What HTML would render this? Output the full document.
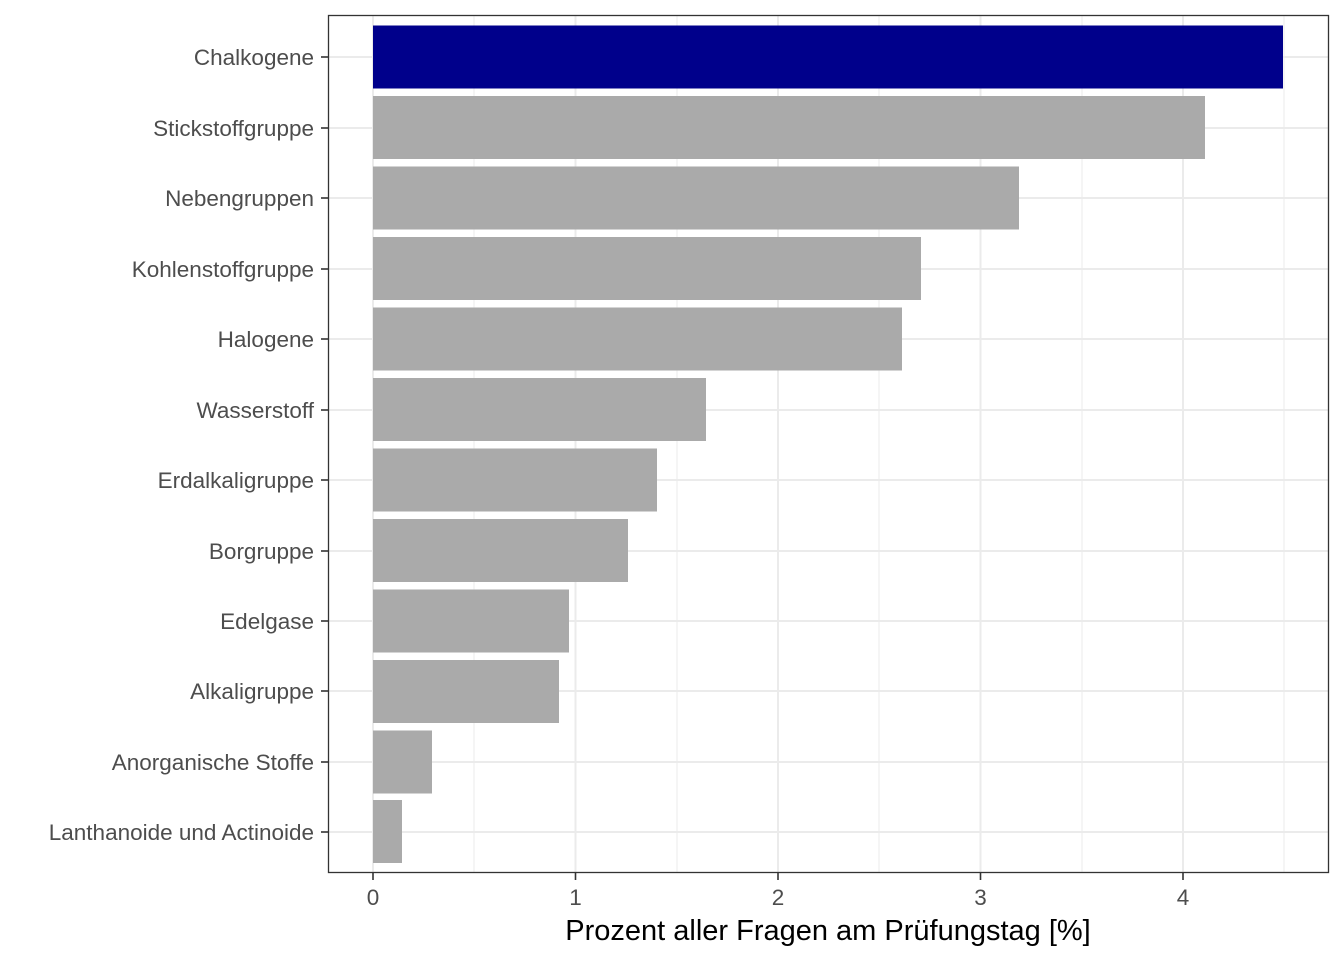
<!DOCTYPE html>
<html><head><meta charset="utf-8"><style>body{margin:0;background:#fff}</style></head><body>
<svg width="1344" height="960" xmlns="http://www.w3.org/2000/svg" font-family="Liberation Sans, sans-serif">
<rect width="1344" height="960" fill="#fff"/>
<g stroke="#ebebeb" stroke-width="1">
<line x1="474" y1="15" x2="474" y2="872"/><line x1="677" y1="15" x2="677" y2="872"/><line x1="879" y1="15" x2="879" y2="872"/><line x1="1082" y1="15" x2="1082" y2="872"/><line x1="1284" y1="15" x2="1284" y2="872"/>
</g>
<g stroke="#ebebeb" stroke-width="2">
<line x1="373" y1="15" x2="373" y2="872"/><line x1="575.5" y1="15" x2="575.5" y2="872"/><line x1="778" y1="15" x2="778" y2="872"/><line x1="980.5" y1="15" x2="980.5" y2="872"/><line x1="1183" y1="15" x2="1183" y2="872"/>
<line x1="328" y1="57" x2="1329" y2="57"/><line x1="328" y1="128" x2="1329" y2="128"/><line x1="328" y1="198" x2="1329" y2="198"/><line x1="328" y1="269" x2="1329" y2="269"/><line x1="328" y1="339" x2="1329" y2="339"/><line x1="328" y1="410" x2="1329" y2="410"/><line x1="328" y1="480" x2="1329" y2="480"/><line x1="328" y1="551" x2="1329" y2="551"/><line x1="328" y1="621" x2="1329" y2="621"/><line x1="328" y1="691" x2="1329" y2="691"/><line x1="328" y1="762" x2="1329" y2="762"/><line x1="328" y1="832" x2="1329" y2="832"/>
</g>
<rect x="373" y="25.5" width="910" height="63" fill="#00008b"/>
<g fill="#aaaaaa">
<rect x="373" y="96" width="832" height="63"/>
<rect x="373" y="166.5" width="646" height="63"/>
<rect x="373" y="237" width="548" height="63"/>
<rect x="373" y="307.5" width="529" height="63"/>
<rect x="373" y="378" width="333" height="63"/>
<rect x="373" y="448.5" width="284" height="63"/>
<rect x="373" y="519" width="255" height="63"/>
<rect x="373" y="589.5" width="196" height="63"/>
<rect x="373" y="660" width="186" height="63"/>
<rect x="373" y="730.5" width="59" height="63"/>
<rect x="373" y="800" width="29" height="63"/>
</g>
<rect x="328.5" y="15.5" width="1000" height="857" fill="none" stroke="#333" stroke-width="1.3"/>
<g stroke="#333" stroke-width="1.6">
<line x1="321" y1="57" x2="328" y2="57"/><line x1="321" y1="128" x2="328" y2="128"/><line x1="321" y1="198" x2="328" y2="198"/><line x1="321" y1="269" x2="328" y2="269"/><line x1="321" y1="339" x2="328" y2="339"/><line x1="321" y1="410" x2="328" y2="410"/><line x1="321" y1="480" x2="328" y2="480"/><line x1="321" y1="551" x2="328" y2="551"/><line x1="321" y1="621" x2="328" y2="621"/><line x1="321" y1="691" x2="328" y2="691"/><line x1="321" y1="762" x2="328" y2="762"/><line x1="321" y1="832" x2="328" y2="832"/>
<line x1="373" y1="873" x2="373" y2="880"/><line x1="575.5" y1="873" x2="575.5" y2="880"/><line x1="778" y1="873" x2="778" y2="880"/><line x1="980.5" y1="873" x2="980.5" y2="880"/><line x1="1183" y1="873" x2="1183" y2="880"/>
</g>
<g fill="#4d4d4d" font-size="22.5" text-anchor="end">
<text x="314" y="65">Chalkogene</text><text x="314" y="136">Stickstoffgruppe</text><text x="314" y="206">Nebengruppen</text><text x="314" y="277">Kohlenstoffgruppe</text><text x="314" y="347">Halogene</text><text x="314" y="418">Wasserstoff</text><text x="314" y="488">Erdalkaligruppe</text><text x="314" y="559">Borgruppe</text><text x="314" y="629">Edelgase</text><text x="314" y="699">Alkaligruppe</text><text x="314" y="770">Anorganische Stoffe</text><text x="314" y="840">Lanthanoide und Actinoide</text>
</g>
<g fill="#4d4d4d" font-size="22.5" text-anchor="middle">
<text x="373" y="905">0</text><text x="575.5" y="905">1</text><text x="778" y="905">2</text><text x="980.5" y="905">3</text><text x="1183" y="905">4</text>
</g>
<text x="828" y="940" font-size="29" text-anchor="middle" fill="#000">Prozent aller Fragen am Prüfungstag [%]</text>
</svg>
</body></html>
